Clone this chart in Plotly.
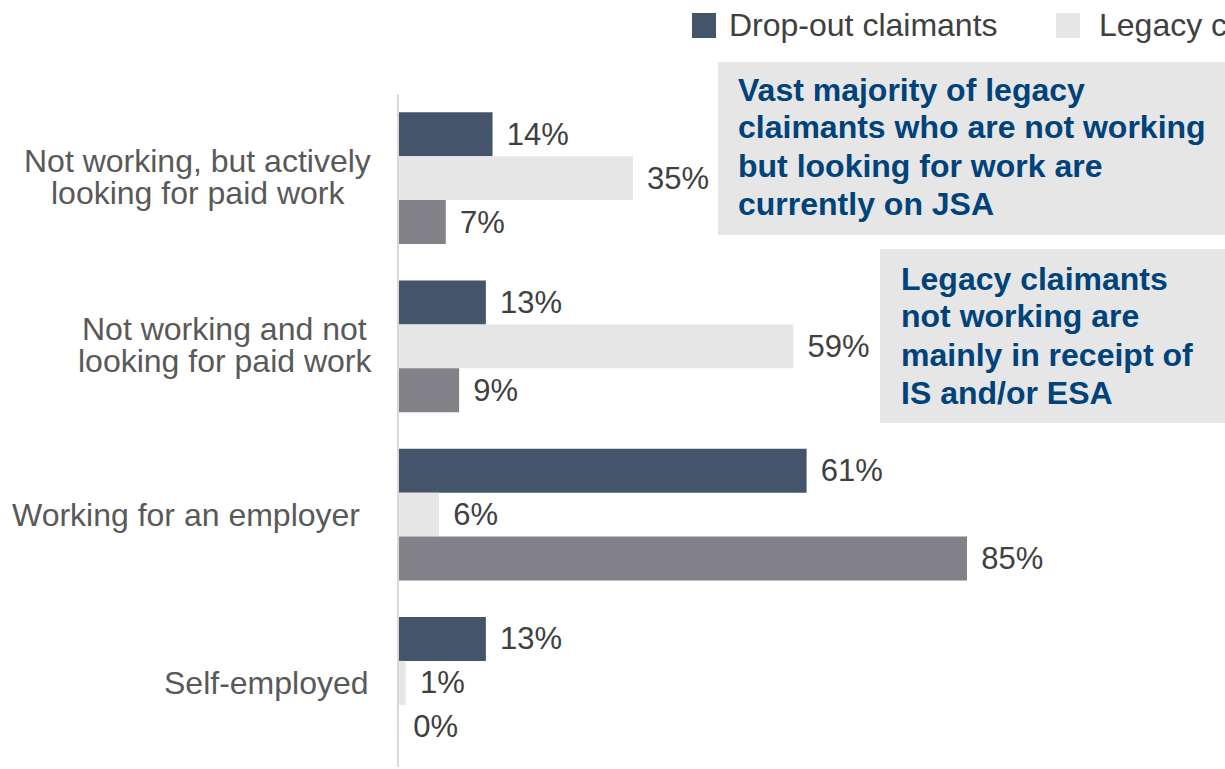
import plotly.graph_objects as go

# Employment status of claimants, % of each group
categories = [
    "Not working, but actively looking for paid work",
    "Not working and not looking for paid work",
    "Working for an employer",
    "Self-employed",
]
category_lines = [
    ["Not working, but actively", "looking for paid work"],
    ["Not working and not", "looking for paid work"],
    ["Working for an employer"],
    ["Self-employed"],
]
series_names = ["Drop-out claimants", "Legacy claimants", "UC claimants"]
dropout = [14, 13, 61, 13]
legacy = [35, 59, 6, 1]
uc = [7, 9, 85, 0]

colors = ["#44546a", "#e6e6e6", "#818187"]
callout_1 = ["Vast majority of legacy", "claimants who are not working",
             "but looking for work are", "currently on JSA"]
callout_2 = ["Legacy claimants", "not working are",
             "mainly in receipt of", "IS and/or ESA"]

W, H = 1225, 769
L, R, T, B = 399, 0, 94, 2
FONT = "Liberation Sans, Arial, sans-serif"


def px(xp):
    return (xp - L) / (W - L - R)


def py(yp):
    return (H - B - yp) / (H - T - B)


fig = go.Figure()
for name, vals, col in zip(series_names, [dropout, legacy, uc], colors):
    fig.add_trace(go.Bar(
        name=name, y=list(range(len(categories))), x=vals, orientation="h",
        marker=dict(color=col, line=dict(width=0)),
        text=vals, texttemplate="\u00a0\u200a%{x}%", textposition="outside",
        textfont=dict(size=31, color="#404040", family=FONT),
        constraintext="none", cliponaxis=False,
        hovertext=categories, hoverinfo="text+x",
    ))

annotations = []
shapes = []

# category labels, one annotation per line for tight spacing
anchors = [("center", 197.5), ("center", 224.5), ("right", 362), ("right", 371)]
for i, lines in enumerate(category_lines):
    anchor, xp = anchors[i]
    shifts = [0] if len(lines) == 1 else [17, -15]
    for line, s in zip(lines, shifts):
        annotations.append(dict(
            text=line, xref="paper", yref="y", x=px(xp), y=i, yshift=s,
            xanchor=anchor, yanchor="middle", showarrow=False,
            font=dict(size=32, color="#595959", family=FONT)))

# legend drawn by hand so it runs off the right edge
legend_items = [(692, 729, series_names[0], colors[0]),
                (1056, 1099, series_names[1], colors[1])]
for sx, tx, name, col in legend_items:
    shapes.append(dict(type="rect", xref="paper", yref="paper",
                       x0=px(sx), x1=px(sx + 24), y0=py(38), y1=py(13),
                       fillcolor=col, line=dict(width=0)))
    annotations.append(dict(
        text=name, xref="paper", yref="paper", x=px(tx - 2), y=py(25.5),
        xanchor="left", yanchor="middle", showarrow=False,
        font=dict(size=32, color="#404040", family=FONT)))

# callout boxes
boxes = [
    (718, 62, 235, 736, [89.6, 127.2, 165.6, 203.9], callout_1),
    (880, 249, 423, 899, [278.9, 316.2, 354.9, 392.9], callout_2),
]
for bx, by0, by1, tx, ys, lines in boxes:
    shapes.append(dict(type="rect", xref="paper", yref="paper",
                       x0=px(bx), x1=px(W + 10), y0=py(by1), y1=py(by0),
                       fillcolor="#e6e6e6", line=dict(width=0), layer="below"))
    for line, yy in zip(lines, ys):
        annotations.append(dict(
            text="<b>%s</b>" % line, xref="paper", yref="paper",
            x=px(tx), y=py(yy), xanchor="left", yanchor="middle",
            showarrow=False,
            font=dict(size=32, color="#00427a", family=FONT)))

fig.update_layout(
    width=W, height=H,
    margin=dict(l=L, r=R, t=T, b=B, pad=0),
    paper_bgcolor="white", plot_bgcolor="white",
    barmode="group", bargap=0.216, bargroupgap=0,
    showlegend=False,
    font=dict(family=FONT),
    xaxis=dict(range=[0, (W - L - R) / 6.682], visible=False, fixedrange=True),
    yaxis=dict(range=[3.5, -0.5], showticklabels=False, showgrid=False,
               zeroline=False, showline=True, linecolor="#d9d9d9",
               linewidth=2, ticks="", fixedrange=True),
    annotations=annotations, shapes=shapes,
)

fig.write_html("out.html", config={"displayModeBar": False})
